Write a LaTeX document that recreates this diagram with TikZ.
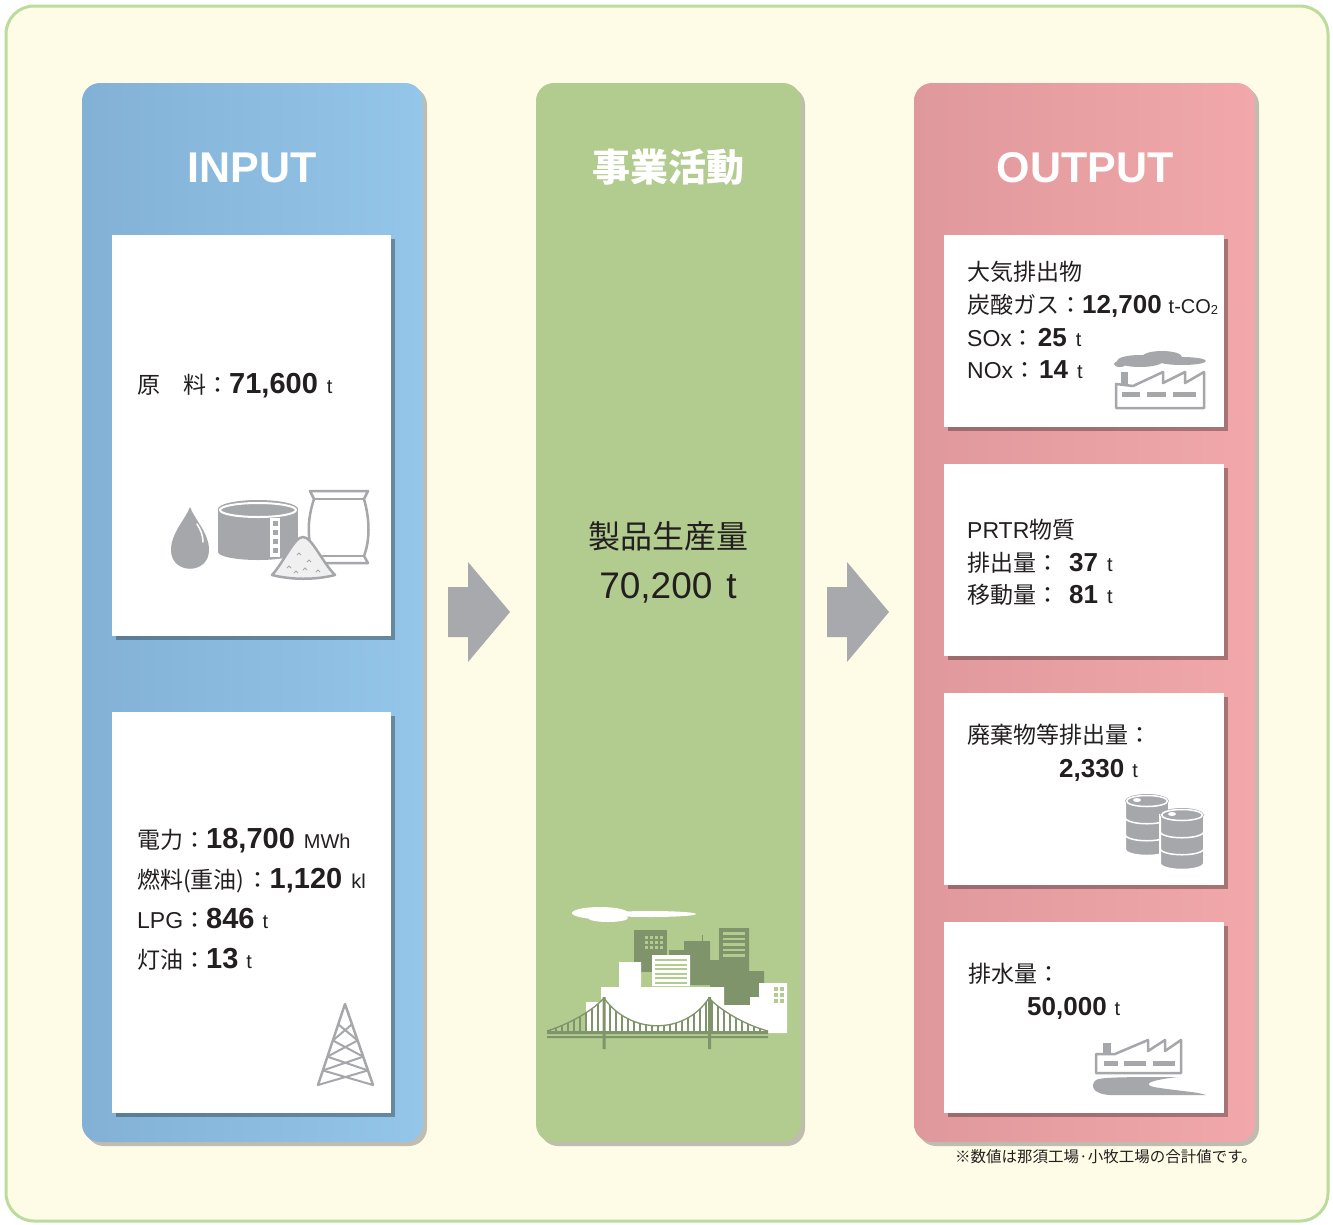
\documentclass[tikz,border=0pt]{standalone}
\usepackage{fontspec}
\setmainfont{Liberation Sans}
\newfontfamily\jp{Noto Sans CJK JP}
\usetikzlibrary{shadows,calc}

\definecolor{bgcream}{HTML}{FEFBE7}
\definecolor{framegreen}{HTML}{BBDC9C}
\definecolor{inleft}{HTML}{82B1D5}
\definecolor{inright}{HTML}{94C6EA}
\definecolor{midgreen}{HTML}{B2CB8E}
\definecolor{outleft}{HTML}{DF989C}
\definecolor{outright}{HTML}{F2A8AA}
\definecolor{arrowgray}{HTML}{A8A9AD}
\definecolor{icongray}{HTML}{A6A7AA}
\definecolor{citygreen}{HTML}{7F946A}
\definecolor{ink}{HTML}{231F20}

\newcommand\val[1]{{\rmfamily\bfseries\fontsize{29}{29}\selectfont #1}}
\newcommand\outval[1]{{\rmfamily\bfseries\fontsize{26}{26}\selectfont #1}}
\newcommand\un[1]{{\rmfamily\fontsize{20}{20}\selectfont #1}}

\tikzset{
  column/.style={rounded corners=18pt,
    drop shadow={shadow xshift=4pt,shadow yshift=-4pt,opacity=.35,fill=black!70}},
  card/.style={fill=white,
    drop shadow={shadow xshift=4pt,shadow yshift=-4pt,opacity=.3,fill=black}},
  head/.style={anchor=base,text=white,inner sep=0pt,
    font=\bfseries\fontsize{43}{43}\selectfont},
  txt/.style={anchor=base west,inner sep=0pt,text=ink,
    font=\jp\fontsize{23}{23}\selectfont},
  iconline/.style={draw=icongray,line width=2.5pt,line join=round}
}

\begin{document}
\begin{tikzpicture}[x=1pt,y=-1pt]
\useasboundingbox (0,0) rectangle (1333,1224);
\draw[line width=3pt,draw=framegreen,fill=bgcream,rounded corners=28pt]
  (6,6) rectangle (1328,1221);

% three columns
\path[column,left color=inleft,right color=inright] (82,83) rectangle (423,1142);
\path[column,fill=midgreen] (536,83) rectangle (801,1142);
\path[column,left color=outleft,right color=outright] (914,83) rectangle (1255,1142);

\node[head] (input) at (252,182) {INPUT};
\node[head,font=\jp\bfseries\fontsize{38}{38}\selectfont] (work) at (668,181) {事業活動};
\node[head] (output) at (1085,182) {OUTPUT};

% arrows between the columns
\foreach \dx in {0,379}
  \fill[arrowgray,shift={(\dx,0)}] (448,587) -- (468,587) -- (468,562) -- (510,612)
    -- (468,662) -- (468,637) -- (448,637) -- cycle;

% input cards
\path[card] (112,235) rectangle (391,636);
\path[card] (112,712) rectangle (391,1113);

\node[txt] (raw) at (137,393) {原　料：\val{71,600}\hspace{9pt}\un{t}};
\node[txt] (power) at (137,848) {電力：\val{18,700}\hspace{9pt}\un{MWh}};
\node[txt] (fuel) at (137,888) {燃料(重油)\hspace{2pt}：\val{1,120}\hspace{9pt}\un{kl}};
\node[txt] (lpg) at (137,928) {{\rmfamily LPG}：\val{846}\hspace{8pt}\un{t}};
\node[txt] (kero) at (137,968) {灯油：\val{13}\hspace{8pt}\un{t}};

% drop, tank, sack and sand
\fill[icongray] (190,507) .. controls (185,520) and (171,533) .. (171,550)
  .. controls (171,575) and (209,575) .. (209,550)
  .. controls (209,533) and (195,520) .. (190,507) -- cycle;
\draw[white,line width=1.5pt,line cap=round] (197,524) .. controls (201,530) and (203,536) .. (203,542);
\fill[icongray] (218,509) rectangle (298,552);
\fill[icongray] (258,552) ellipse (40 and 8);
\fill[icongray] (258,509) ellipse (40 and 9);
\draw[white,line width=2pt] (258,510) ellipse (38 and 7);
\fill[white] (270,518) rectangle (280,557);
\foreach \y in {521,530,539,548}
  \fill[icongray] (272.5,\y) rectangle (277.5,\y+5);
\draw[iconline,fill=white] (310,491) -- (368,491) -- (364,499) .. controls (370,520) and (370,540) .. (364,556)
  -- (368,563) -- (310,563) -- (314,556) .. controls (307,540) and (307,520) .. (314,499) -- cycle;
\draw[iconline,line width=1.5pt] (314,499) -- (364,499) (314,556) -- (364,556);
\draw[iconline,fill=gray!12] (272,575) .. controls (284,562) and (294,537) .. (303,537)
  .. controls (312,537) and (322,562) .. (335,575) .. controls (315,580) and (292,580) .. (272,575) -- cycle;
\foreach \x/\y in {289/566,299/553,309/560,296/571,318/570,305/568}
  \draw[icongray,line width=1pt] (\x-2,\y+2) -- (\x,\y) -- (\x+2,\y+2);

% pylon
\coordinate (apex) at (345,1004);
\coordinate (legl) at (318,1085);
\coordinate (legr) at (373,1085);
\draw[iconline,line cap=round] (legl) -- (apex) -- (legr);
\foreach \a/\b in {.25/.45,.45/.65,.65/.82,.82/1}
  \draw[icongray,line width=2pt] ($(apex)!\a!(legl)$) -- ($(apex)!\b!(legr)$)
    ($(apex)!\a!(legr)$) -- ($(apex)!\b!(legl)$);

% production
\node[anchor=base,inner sep=0pt,text=ink,font=\jp\fontsize{32}{32}\selectfont] (prodlabel) at (668,548) {製品生産量};
\node[anchor=base,inner sep=0pt,text=ink,font=\fontsize{37}{37}\selectfont] (prod) at (668,598) {70,200\hspace{14pt}t};

% city with bridge
\fill[white] (600,913) ellipse (28 and 6);
\fill[white] (608,918) ellipse (20 and 4);
\fill[white] (650,914) ellipse (46 and 3);
\fill[citygreen] (634,930) rectangle (667,972);
\fill[citygreen] (669,950) rectangle (684,985) (684,941) rectangle (710,985);
\draw[citygreen,line width=1pt] (702,941) -- (702,935);
\fill[citygreen] (719,928) rectangle (749,1007) (710,960) rectangle (727,1007) (749,971) rectangle (764,1007);
\foreach \i in {0,...,3}
  \foreach \j in {0,...,2}
    \fill[midgreen] (645+\i*5,936+\j*5) rectangle +(3,3);
\foreach \j in {0,...,4}
  \fill[midgreen] (723,932+\j*5.5) rectangle +(22,2.5);
\fill[white] (619,962) rectangle (641,990) (652,955) rectangle (690,986)
  (601,987) rectangle (724,1033) (586,1002) rectangle (601,1033)
  (724,1005) rectangle (751,1033) (750,997) rectangle (787,1033) (759,983) rectangle (787,997);
\foreach \j in {0,...,5}
  \fill[midgreen] (655,959+\j*4.5) rectangle +(32,2);
\foreach \i in {0,1}
  \foreach \j in {0,1,2}
    \fill[midgreen] (774+\i*6,987+\j*6) rectangle +(4,4);
\begin{scope}
  \clip (547,1031) .. controls (575,1022) and (595,1008) .. (604,998)
    .. controls (630,1035) and (685,1035) .. (709,998)
    .. controls (720,1010) and (745,1025) .. (768,1031) -- cycle;
  \foreach \x in {550,556,...,768}
    \draw[citygreen,line width=1.2pt] (\x,995) -- (\x,1032);
\end{scope}
\draw[citygreen,line width=1.3pt] (547,1031) .. controls (575,1022) and (595,1008) .. (604,998)
    .. controls (630,1035) and (685,1035) .. (709,998)
    .. controls (720,1010) and (745,1025) .. (768,1031);
\fill[citygreen] (547,1031) rectangle (768,1034) (547,1036) rectangle (768,1038);
\fill[citygreen] (602.5,997) rectangle (605.5,1049) (708,997) rectangle (711,1049);

% output cards
\path[card] (944,235) rectangle (1224,427);
\path[card] (944,464) rectangle (1224,656);
\path[card] (944,693) rectangle (1224,885);
\path[card] (944,922) rectangle (1224,1113);

\node[txt] (air) at (967,280) {大気排出物};
\node[txt] (co2) at (967,313) {炭酸ガス：\outval{12,700}\hspace{7pt}\un{t-CO\raisebox{-1pt}{\fontsize{13}{13}\selectfont 2}}};
\node[txt] (sox) at (967,346) {{\rmfamily SOx}：\hspace{3pt}\outval{25}\hspace{9pt}\un{t}};
\node[txt] (nox) at (967,378) {{\rmfamily NOx}：\hspace{3pt}\outval{14}\hspace{9pt}\un{t}};

\node[txt] (prtr) at (967,538) {{\rmfamily PRTR}物質};
\node[txt] (emit) at (967,571) {排出量：\hspace{10pt}\outval{37}\hspace{9pt}\un{t}};
\node[txt] (move) at (967,603) {移動量：\hspace{10pt}\outval{81}\hspace{9pt}\un{t}};

\node[txt] (waste) at (967,743) {廃棄物等排出量：};
\node[txt] (wasteval) at (1059,777) {\outval{2,330}\hspace{8pt}\un{t}};

\node[txt] (drain) at (968,982) {排水量：};
\node[txt] (drainval) at (1027,1015) {\outval{50,000}\hspace{8pt}\un{t}};

% factory with smoke
\fill[icongray] (1140,361) ellipse (23 and 6) (1162,357) ellipse (20 and 6)
  (1182,361) ellipse (24 and 4) (1120,364) ellipse (6 and 3);
\fill[icongray] (1121,372) rectangle (1128,385);
\draw[iconline,fill=white] (1116,384) -- (1133,386) -- (1163,372) -- (1163,383) -- (1185,372)
  -- (1185,383) -- (1204,372) -- (1204,408) -- (1116,408) -- cycle;
\foreach \a/\b in {1122/1140,1147/1166,1173/1196}
  \fill[icongray] (\a,392) rectangle (\b,397);

% barrels
\foreach \x/\y in {1147/801,1182/815}{
  \fill[icongray,draw=white,line width=2pt] (\x-22,\y) -- (\x-22,\y+48)
    .. controls (\x-22,\y+57) and (\x+22,\y+57) .. (\x+22,\y+48) -- (\x+22,\y) -- cycle;
  \fill[icongray] (\x,\y) ellipse (22 and 7);
  \draw[white,line width=1.5pt] (\x,\y) ellipse (20.5 and 5.5);
  \fill[white] (\x-10,\y-1) ellipse (4 and 2);
  \draw[white,line width=1.5pt] (\x-22,\y+16) .. controls (\x-22,\y+25) and (\x+22,\y+25) .. (\x+22,\y+16)
    (\x-22,\y+33) .. controls (\x-22,\y+42) and (\x+22,\y+42) .. (\x+22,\y+33);
}

% factory by the river
\fill[icongray] (1103,1043) rectangle (1111,1055);
\draw[iconline,fill=white] (1096,1054) -- (1115,1054) -- (1148,1040) -- (1148,1051) -- (1165,1040)
  -- (1165,1051) -- (1181,1040) -- (1181,1073) -- (1096,1073) -- cycle;
\foreach \a/\b in {1104/1118,1124/1146,1153/1175}
  \fill[icongray] (\a,1061) rectangle (\b,1066);
\fill[icongray] (1096,1080) .. controls (1100,1077) and (1130,1077) .. (1178,1077)
  .. controls (1150,1080) and (1138,1085) .. (1160,1088)
  .. controls (1180,1091) and (1198,1092) .. (1206,1095)
  -- (1110,1095) .. controls (1092,1094) and (1090,1085) .. (1096,1080) -- cycle;

\node[anchor=base,inner sep=0pt,text=ink,font=\jp\fontsize{15.5}{15.5}\selectfont] (note) at (1106,1162)
  {※数値は那須工場·小牧工場の合計値です。};
\end{tikzpicture}
\end{document}
